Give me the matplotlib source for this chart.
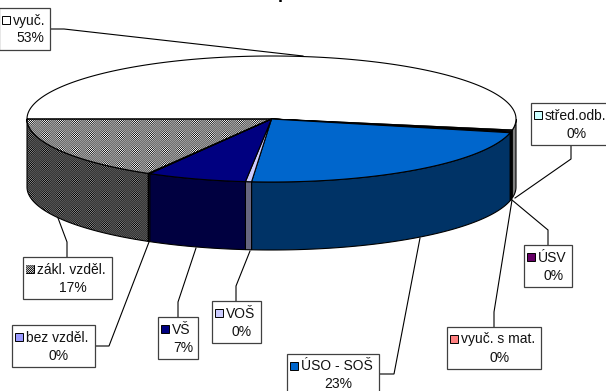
import numpy as np
import matplotlib
matplotlib.use('Agg')
import matplotlib.pyplot as plt
from matplotlib.patches import Polygon, Rectangle

plt.rcParams['font.family'] = ['Liberation Sans', 'DejaVu Sans']

# clockwise from the left end of the ellipse
labels = ['vyuč.', 'střed.odb.', 'ÚSV', 'vyuč. s mat.', 'ÚSO - SOŠ', 'VOŠ', 'VŠ', 'bez vzděl.', 'zákl. vzděl.']
values = [52.8, 0.3, 0.2, 0.2, 22.8, 0.4, 6.6, 0.1, 16.6]
percent = ['53%', '0%', '0%', '0%', '23%', '0%', '7%', '0%', '17%']
top_colors = ['#FFFFFF', '#CCFFFF', '#660066', '#FF8080', '#0066CC', '#CCCCFF', '#000080', '#9999FF', 'pattern']
side_colors = ['#808080', '#668080', '#330033', '#804040', '#003366', '#666680', '#000040', '#4D4D80', 'pattern']

# x0, y0, x1, y1 of the label boxes
boxes = [(-1, 8, 50, 50), (531, 103, 612, 145), (524, 245, 572, 287), (447, 327, 541, 369),
         (287, 354, 379, 396), (212, 301, 261, 343), (158, 317, 198, 359), (12, 325, 95, 367), (23, 257, 112, 299)]
leaders = [[(50, 29), (64, 29), (303, 56)],
           [(571, 145), (571, 159), (515, 198)],
           [(548, 245), (548, 230), (512, 200)],
           [(494, 327), (494, 312), (512, 200)],
           [(379, 374), (394, 374), (420, 238)],
           [(236, 301), (236, 286), (250, 251)],
           [(178, 317), (178, 302), (196, 248)],
           [(95, 346), (109, 346), (149, 242)],
           [(67, 257), (67, 242), (58, 218)]]

cx, cy, rx, ry, depth = 271.5, 119, 244.5, 63, 68


def arc(t1, t2, dy=0):
    t = np.radians(np.linspace(t1, t2, max(int(abs(t2 - t1) * 2), 2)))
    return np.column_stack([cx + rx * np.cos(t), cy - ry * np.sin(t) + dy])


def dither(mean, amp):
    # checker texture with the soft blobs of the original fill
    yy, xx = np.mgrid[0:391, 0:606]
    blobs = 0.15 + 0.85 * (np.cos(np.pi * xx / 15) * np.cos(np.pi * yy / 15)) ** 2
    return mean + amp * blobs * (-1.0) ** (xx + yy)


fig = plt.figure(figsize=(6.06, 3.91), dpi=100)
ax = fig.add_axes([0, 0, 1, 1])
ax.axis('off')

# walls, only the front half of the ellipse shows them
start = 180.0
for v, sc in zip(values, side_colors):
    end = start - v / sum(values) * 360
    if end < 0:
        a = min(start, 0.0)
        pts = np.vstack([arc(a, end), arc(end, a, depth)])
        if sc == 'pattern':
            p = Polygon(pts, closed=True, fc='none', ec='black', lw=0.8, zorder=3)
            ax.add_patch(p)
            im = ax.imshow(dither(0.27, 0.27), cmap='gray', vmin=0, vmax=1, extent=(0, 606, 391, 0),
                           interpolation='nearest', aspect='auto', zorder=2)
            im.set_clip_path(p)
        else:
            ax.add_patch(Polygon(pts, closed=True, fc=sc, ec='black', lw=0.8, zorder=3))
    start = end

start = 180.0
for v, tc in zip(values, top_colors):
    end = start - v / sum(values) * 360
    pts = np.vstack([[(cx, cy)], arc(start, end)])
    if tc == 'pattern':
        p = Polygon(pts, closed=True, fc='none', ec='black', lw=0.8, zorder=5)
        ax.add_patch(p)
        im = ax.imshow(dither(0.52, 0.46), cmap='gray', vmin=0, vmax=1, extent=(0, 606, 391, 0),
                       interpolation='nearest', aspect='auto', zorder=4)
        im.set_clip_path(p)
    else:
        ax.add_patch(Polygon(pts, closed=True, fc=tc, ec='black', lw=0.8, zorder=5))
    start = end

for name, pct, col, box, line in zip(labels, percent, top_colors, boxes, leaders):
    x0, y0, x1, y1 = box
    ax.plot(*zip(*line), color='black', lw=0.8, zorder=6, solid_joinstyle='miter')
    ax.add_patch(Rectangle((x0, y0), x1 - x0, y1 - y0, fc='white', ec='#404040', lw=0.9, zorder=7))
    key = Rectangle((x0 + 3, y0 + 8), 8, 8, fc='white' if col == 'pattern' else col, ec='black', lw=0.7, zorder=8)
    ax.add_patch(key)
    if col == 'pattern':
        kim = ax.imshow(dither(0.45, 0.4), cmap='gray', vmin=0, vmax=1, extent=(0, 606, 391, 0),
                        interpolation='nearest', aspect='auto', zorder=9)
        kim.set_clip_path(key)
    ax.text(x0 + 14, y0 + 12.5, name, fontsize=10, color='#111111', va='center', ha='left', zorder=10)
    ax.text((x0 + x1) / 2 + 5.5, y0 + 30.5, pct, fontsize=10, color='#111111', va='center', ha='center', zorder=10)

# title sits almost completely above the picture, only a descender shows
ax.text(283, -1.5, 'p', fontsize=13, fontweight='bold', ha='center', va='baseline', zorder=10, clip_on=True)

ax.set_xlim(0, 606)
ax.set_ylim(391, 0)
fig.savefig('out.png', dpi=100, facecolor='white')
